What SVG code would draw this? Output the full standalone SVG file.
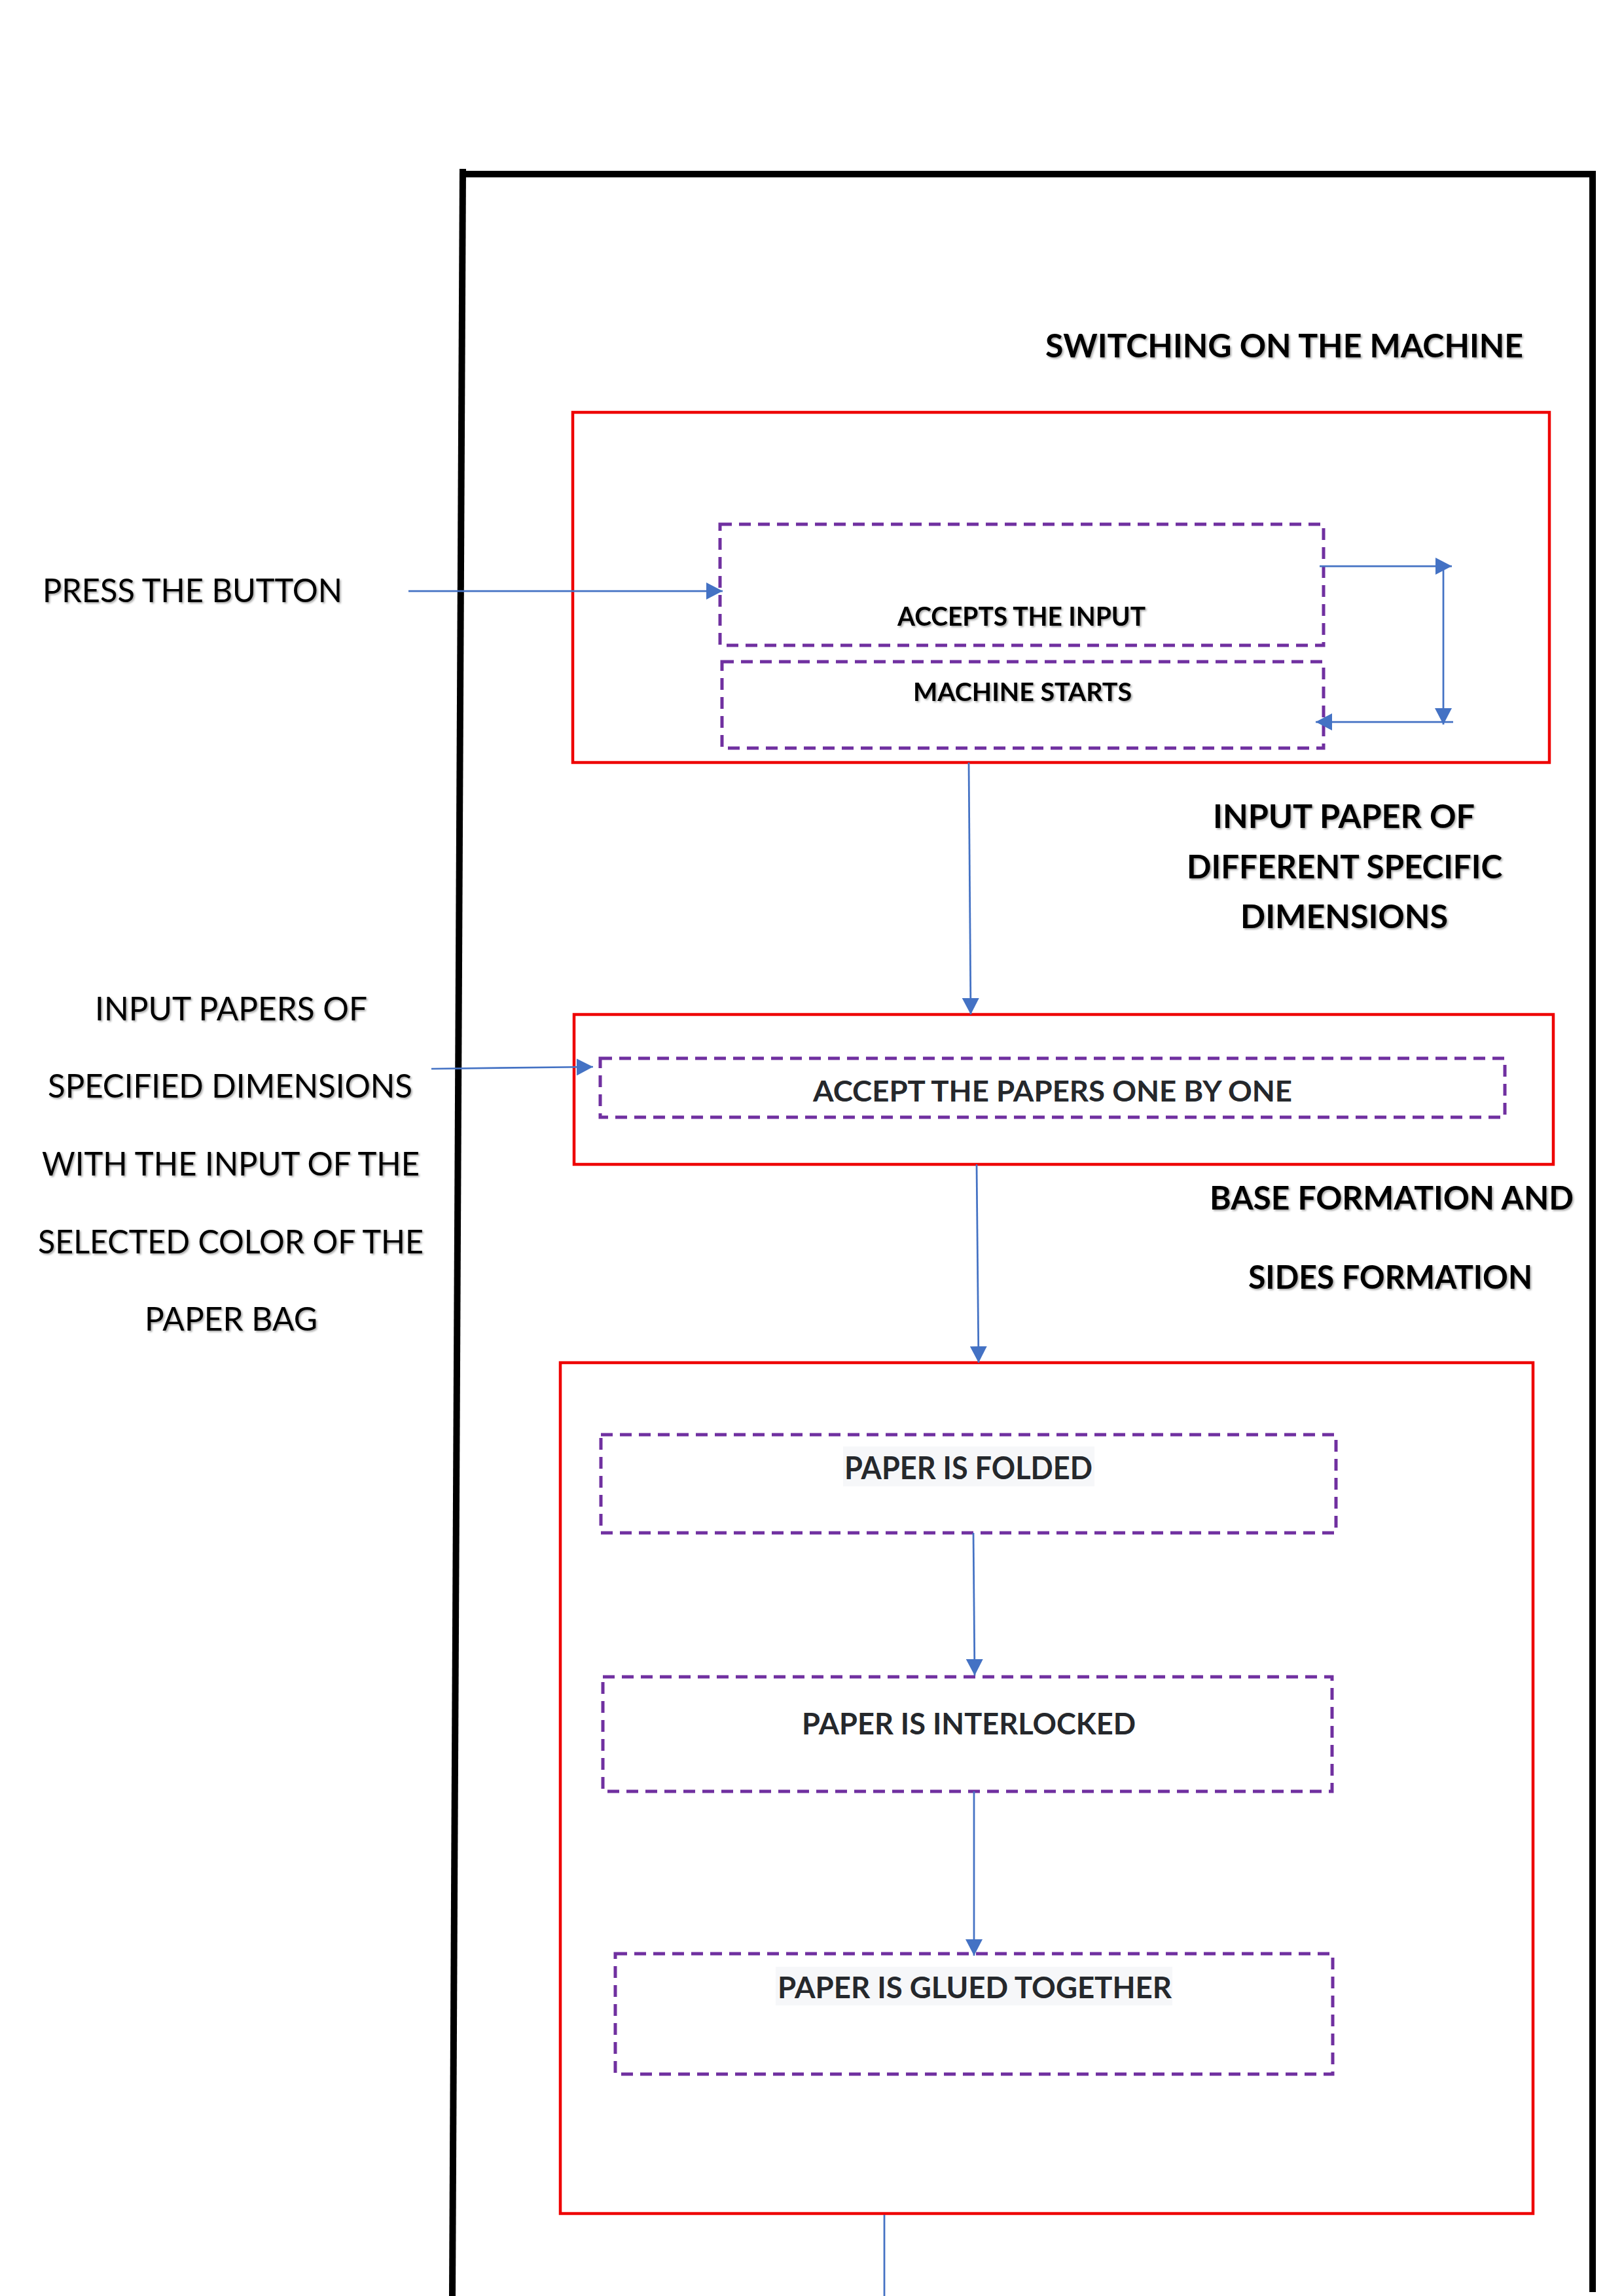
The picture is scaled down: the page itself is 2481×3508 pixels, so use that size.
<svg xmlns="http://www.w3.org/2000/svg" width="2481" height="3508" viewBox="0 0 2481 3508">
  <defs>
    <marker id="arrow" markerUnits="userSpaceOnUse" markerWidth="26" markerHeight="26" refX="25" refY="13" orient="auto">
      <path d="M0,0 L25,13 L0,26 Z" fill="#4472C4"/>
    </marker>
    <filter id="shadow" x="-5%" y="-30%" width="110%" height="160%">
      <feDropShadow dx="2" dy="2" stdDeviation="1.5" flood-color="#000" flood-opacity="0.35"/>
    </filter>
    <style>
      .frame { fill: none; stroke: #000; stroke-width: 10; }
      .stage { fill: none; stroke: #EE0000; stroke-width: 4.5; }
      .step { fill: none; stroke: #7030A0; stroke-width: 5; stroke-dasharray: 18 11; }
      .link { fill: none; stroke: #4472C4; stroke-width: 2.75; }
      .arrowed { marker-end: url(#arrow); }
      .lbl { font-family: Lato, "Open Sans", "Liberation Sans", sans-serif; fill: #000; filter: url(#shadow); }
      .reg { font-weight: 400; font-size: 50px; }
      .bold { font-weight: 700; }
      .steptxt { font-family: Lato, "Open Sans", "Liberation Sans", sans-serif; font-weight: 700; fill: #25282C; }
      .hl { fill: #F6F7F9; }
    </style>
  </defs>

  <rect x="0" y="0" width="2481" height="3508" fill="#FFFFFF"/>

  <!-- outer frame -->
  <g id="frame">
    <path class="frame" d="M691,3508 L707,258"/>
    <path class="frame" d="M702,266 L2438,266"/>
    <path class="frame" d="M2433,261 L2433,3502"/>
  </g>

  <!-- side labels -->
  <g id="label-switching">
    <text class="lbl bold" x="1597" y="546" font-size="50" textLength="730" lengthAdjust="spacingAndGlyphs">SWITCHING ON THE MACHINE</text>
  </g>
  <g id="label-press">
    <text class="lbl reg" x="65" y="920" textLength="458" lengthAdjust="spacingAndGlyphs">PRESS THE BUTTON</text>
  </g>
  <g id="label-input-papers">
    <text class="lbl reg" x="145" y="1559" textLength="416" lengthAdjust="spacingAndGlyphs">INPUT PAPERS OF</text>
    <text class="lbl reg" x="73" y="1677" textLength="557" lengthAdjust="spacingAndGlyphs">SPECIFIED DIMENSIONS</text>
    <text class="lbl reg" x="64" y="1796" textLength="577" lengthAdjust="spacingAndGlyphs">WITH THE INPUT OF THE</text>
    <text class="lbl reg" x="58" y="1915" textLength="589" lengthAdjust="spacingAndGlyphs">SELECTED COLOR OF THE</text>
    <text class="lbl reg" x="221" y="2033" textLength="264" lengthAdjust="spacingAndGlyphs">PAPER BAG</text>
  </g>
  <g id="label-input-paper">
    <text class="lbl bold" x="1853" y="1265" font-size="50" textLength="400" lengthAdjust="spacingAndGlyphs">INPUT PAPER OF</text>
    <text class="lbl bold" x="1813" y="1342" font-size="50" textLength="482" lengthAdjust="spacingAndGlyphs">DIFFERENT SPECIFIC</text>
    <text class="lbl bold" x="1895" y="1418" font-size="50" textLength="317" lengthAdjust="spacingAndGlyphs">DIMENSIONS</text>
  </g>
  <g id="label-formation">
    <text class="lbl bold" x="1848" y="1848" font-size="49" textLength="556" lengthAdjust="spacingAndGlyphs">BASE FORMATION AND</text>
    <text class="lbl bold" x="1907" y="1969" font-size="49" textLength="434" lengthAdjust="spacingAndGlyphs">SIDES FORMATION</text>
  </g>

  <!-- stage 1: switching on -->
  <g id="stage-switch-on">
    <rect class="stage" x="875" y="630" width="1492" height="535"/>
  </g>
  <g id="step-accepts-input">
    <rect class="step" x="1100" y="801" width="922" height="185"/>
    <text class="lbl bold" x="1371" y="956" font-size="40" textLength="379" lengthAdjust="spacingAndGlyphs">ACCEPTS THE INPUT</text>
  </g>
  <g id="step-machine-starts">
    <rect class="step" x="1103" y="1011" width="919" height="132"/>
    <text class="lbl bold" x="1395" y="1071" font-size="38.5" textLength="334" lengthAdjust="spacingAndGlyphs">MACHINE STARTS</text>
  </g>

  <!-- stage 2: paper feed -->
  <g id="stage-feed">
    <rect class="stage" x="877" y="1550" width="1496" height="229"/>
  </g>
  <g id="step-accept-papers">
    <rect class="step" x="917" y="1617" width="1382" height="90"/>
    <text class="steptxt" x="1242" y="1683" font-size="43" textLength="732" lengthAdjust="spacingAndGlyphs">ACCEPT THE PAPERS ONE BY ONE</text>
  </g>

  <!-- stage 3: base and sides formation -->
  <g id="stage-formation">
    <rect class="stage" x="856" y="2082" width="1486" height="1300"/>
  </g>
  <g id="step-folded">
    <rect class="step" x="918" y="2192" width="1123" height="150"/>
    <rect class="hl" x="1288" y="2210" width="384" height="61"/>
    <text class="steptxt" x="1290" y="2260" font-size="47" textLength="379" lengthAdjust="spacingAndGlyphs">PAPER IS FOLDED</text>
  </g>
  <g id="step-interlocked">
    <rect class="step" x="921" y="2562" width="1114" height="175"/>
    <text class="steptxt" x="1225" y="2650" font-size="46" textLength="510" lengthAdjust="spacingAndGlyphs">PAPER IS INTERLOCKED</text>
  </g>
  <g id="step-glued">
    <rect class="step" x="940" y="2985" width="1096" height="184"/>
    <rect class="hl" x="1185" y="3005" width="606" height="59"/>
    <text class="steptxt" x="1188" y="3053" font-size="46" textLength="602" lengthAdjust="spacingAndGlyphs">PAPER IS GLUED TOGETHER</text>
  </g>

  <!-- connectors -->
  <g id="connectors">
    <path class="link arrowed" d="M624,903 L1104,903"/>
    <path class="link arrowed" d="M2016,865 L2218,865"/>
    <path class="link arrowed" d="M2205,865 L2205,1107"/>
    <path class="link arrowed" d="M2220,1103 L2010,1103"/>
    <path class="link arrowed" d="M1480,1165 L1483,1550"/>
    <path class="link arrowed" d="M659,1633 L906,1630"/>
    <path class="link arrowed" d="M1492,1779 L1495,2082"/>
    <path class="link arrowed" d="M1487,2342 L1489,2560"/>
    <path class="link arrowed" d="M1488,2737 L1488,2988"/>
    <path class="link" d="M1351,3384 L1351,3508"/>
  </g>
</svg>
